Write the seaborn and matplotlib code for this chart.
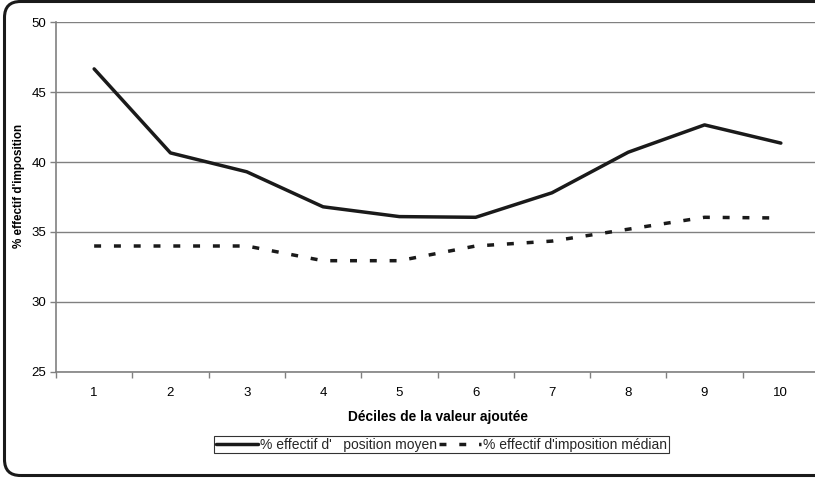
import numpy as np
import pandas as pd
import seaborn as sns
import matplotlib.pyplot as plt
from matplotlib.patches import FancyBboxPatch
from matplotlib.transforms import IdentityTransform

# data
deciles = [1, 2, 3, 4, 5, 6, 7, 8, 9, 10]
moyen = [46.65, 40.65, 39.3, 36.8, 36.1, 36.05, 37.8, 40.7, 42.65, 41.35]
median = [34.0, 34.0, 34.0, 32.95, 32.95, 34.0, 34.35, 35.2, 36.05, 36.0]
lab_moyen = "% effectif d'   position moyen"
lab_median = "% effectif d'imposition médian"

df = pd.DataFrame({"decile": deciles, "moyen": moyen, "median": median})

sns.set_theme(style="white")
plt.rcParams['font.family'] = ['Liberation Sans', 'DejaVu Sans']

W, H = 815, 478
fig = plt.figure(figsize=(W / 100, H / 100), dpi=100)
# plot area runs past the right edge, like the cropped original
ax = fig.add_axes([56 / W, 1 - 372 / H, 763 / W, 350 / H])

grid_col = "#808080"
line_col = "#1a1a1a"

sns.lineplot(data=df, x="decile", y="moyen", ax=ax, color=line_col,
             linewidth=2.5, label=lab_moyen, legend=False)
sns.lineplot(data=df, x="decile", y="median", ax=ax, color=line_col,
             linewidth=2.5, label=lab_median, legend=False)
ax.lines[1].set_dashes((2, 3.7))
ax.lines[1].set_dash_capstyle("butt")

ax.set_xlim(0.5, 10.5)
ax.set_ylim(25, 50)
ax.set_yticks([25, 30, 35, 40, 45, 50])
ax.yaxis.grid(True, color=grid_col, linewidth=1.0)
ax.set_axisbelow(True)

# category axis: ticks between categories, labels at the centres
ax.set_xticks(np.arange(0.5, 11, 1))
ax.set_xticklabels([])
ax.set_xticks(deciles, minor=True)
ax.set_xticklabels([str(d) for d in deciles], minor=True)
ax.tick_params(axis="x", which="major", direction="out", length=4,
               color=grid_col, width=1, bottom=True)
ax.tick_params(axis="x", which="minor", length=0, pad=11, labelsize=9.5,
               labelcolor="black")
ax.tick_params(axis="y", direction="out", length=4, width=1, color=grid_col,
               pad=3, labelsize=9.5, labelcolor="black", left=True)

for s in ["top", "right"]:
    ax.spines[s].set_visible(False)
for s in ["left", "bottom"]:
    ax.spines[s].set_color(grid_col)
    ax.spines[s].set_linewidth(1.2)

ax.set_xlabel("Déciles de la valeur ajoutée", fontsize=9.9, fontweight="bold",
              color="black")
ax.xaxis.set_label_coords(0.5, -(410 - 372) / 350)
ax.set_ylabel("% effectif d'imposition", fontsize=8.4, fontweight="bold",
              color="black")
ax.yaxis.set_label_coords(-(56 - 25) / 763, (372 - 186) / 350)

handles, labels = ax.get_legend_handles_labels()
leg = fig.legend(handles, labels, loc="center", ncol=2,
                 bbox_to_anchor=((210 + 673) / 2 / W, 1 - 444.5 / H),
                 frameon=True, fancybox=False, edgecolor="black",
                 fontsize=10, handlelength=3.0, handletextpad=0.15,
                 columnspacing=0.2, borderpad=0.12, borderaxespad=0)
leg.get_frame().set_linewidth(0.8)

# rounded outer chart frame
frame = FancyBboxPatch((4.5, 2.5), 840, 474,
                       boxstyle="round,pad=0,rounding_size=16",
                       transform=IdentityTransform(), fill=False,
                       edgecolor=line_col, linewidth=2.2)
fig.patches.append(frame)

fig.savefig("out.png", dpi=100)
